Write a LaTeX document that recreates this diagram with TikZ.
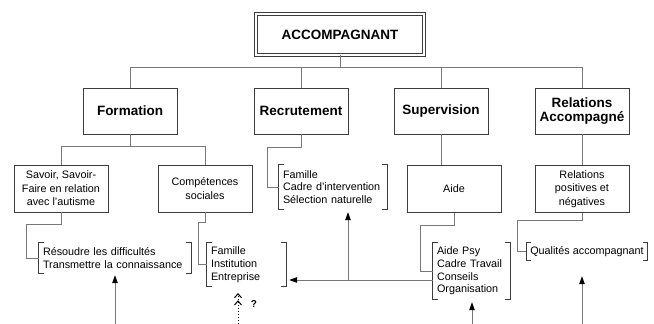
\documentclass[tikz,border=0pt]{standalone}
\usepackage{fontspec}
\setmainfont{Liberation Sans}
\usetikzlibrary{arrows.meta, positioning, calc}
\definecolor{boxline}{RGB}{60,60,60}
\definecolor{linkline}{RGB}{120,120,120}

\begin{document}
\begin{tikzpicture}[x=1pt, y=-1pt,
    head/.style={draw=boxline, line width=0.9pt, double, double distance=2pt,
                 minimum width=168pt, minimum height=41pt,
                 font=\bfseries\fontsize{13.5}{15}\selectfont},
    topic/.style={draw=boxline, line width=0.9pt, minimum width=94pt, minimum height=46pt,
                  align=center, font=\bfseries\fontsize{13.5}{14.5}\selectfont},
    sub/.style={draw=boxline, line width=0.9pt, minimum width=94pt, minimum height=47pt,
                align=center, font=\fontsize{10.8}{13.5}\selectfont},
    list/.style={inner xsep=4pt, inner ysep=0pt, align=left,
                 font=\fontsize{10.8}{12.8}\selectfont},
    link/.style={draw=linkline, line width=0.9pt},
    brk/.style={draw=boxline, line width=0.9pt},
    arr/.style={draw=linkline, line width=0.9pt, -{Triangle[length=8pt, width=5.5pt, color=black]}},
    qarr/.style={draw=black, line width=1pt, dotted,
                 -{Straight Barb[length=4pt, width=7pt, sep=2pt] Straight Barb[length=4pt, width=7pt]}}
  ]
    \useasboundingbox (0,0) rectangle (654,324);

    % Head
    \node[head] (acc) at (340,34.5) {ACCOMPAGNANT};

    % Topics
    \node[topic] (form) at (130,111) {Formation};
    \node[topic] (recr) at (301,111) {Recrutement};
    \node[topic] (supv) at (441,111) {Supervision};
    \node[topic] (rela) at (582,111) {Relations\\Accompagné};

    % Second level
    \node[sub] (savoir) at (61,188.5)  {Savoir, Savoir-\\Faire en relation\\avec l'autisme};
    \node[sub] (comp)   at (205,188.5) {Compétences\\sociales};
    \node[sub] (aide)   at (454,189)   {Aide};
    \node[sub] (relpn)  at (582,189)   {Relations\\positives et\\négatives};

    % Bracketed lists
    \node[list, text width=144pt, minimum height=30pt] (resb)  at (115,258)   {Résoudre les difficultés\\Transmettre la connaissance};
    \node[list, text width=71pt,  minimum height=43pt] (famb)  at (246.5,264.5) {Famille\\Institution\\Entreprise};
    \node[list, text width=100pt, minimum height=44pt] (recb)  at (333,187)   {Famille\\Cadre d'intervention\\Sélection naturelle};
    \node[list, text width=69pt,  minimum height=56pt] (aideb) at (471.5,271) {Aide Psy\\Cadre Travail\\Conseils\\Organisation};
    \node[list, minimum width=120pt, minimum height=17pt] (qualb) at (587,251.5) {Qualités accompagnant};

    \foreach \b in {resb, famb, recb, aideb, qualb} {
      \draw[brk] ([xshift=5pt]\b.north west) -- (\b.north west) -- (\b.south west) -- ([xshift=5pt]\b.south west);
      \draw[brk] ([xshift=-5pt]\b.north east) -- (\b.north east) -- (\b.south east) -- ([xshift=-5pt]\b.south east);
    }

    % Tree links
    \foreach \t in {form, recr, supv, rela}
      \draw[link] (acc.south) -- ++(0,12) -| (\t.north);
    \draw[link] (form.south) -- ++(0,12) -| (savoir.north);
    \draw[link] (form.south) -- ++(0,12) -| (comp.north);
    \draw[link] (supv.south) -- (supv.south |- aide.north);
    \draw[link] (rela.south) -- (relpn.north);

    \draw[link] (savoir.south) -- ++(0,12) -| ([xshift=-12pt]resb.west) -- (resb.west);
    \draw[link] (comp.south) -- ++(0,10) -| ([xshift=-8pt]famb.west) -- (famb.west);
    \draw[link] (recr.south) -- ++(0,13) -| ([xshift=-11pt]recb.west) -- (recb.west);
    \draw[link] (aide.south) -- ++(0,12) -| ([xshift=-12pt]aideb.west) -- (aideb.west);
    \draw[link] (relpn.south) -- ++(0,7) -| ([xshift=-9pt]qualb.west) -- (qualb.west);

    % Incoming arrows
    \coordinate (in1) at (115,324);
    \coordinate (in2) at (472,324);
    \coordinate (in3) at (582,324);
    \coordinate (jn)  at (348,280);
    \draw[arr] (in1) -- ([yshift=-2pt]resb.south -| in1);
    \draw[arr] (in2) -- ([yshift=-3pt]aideb.south -| in2);
    \draw[arr] (in3) -- ([yshift=-16pt]qualb.south -| in3);
    \draw[arr] ([yshift=-9pt]aideb.west) -- ([yshift=-9pt,xshift=3pt]aideb.west -| famb.east);
    \draw[arr] (jn) -- ([yshift=-3pt]recb.south -| jn);

    % Open question
    \coordinate (qin) at (238,324);
    \draw[qarr] (qin) -- (238,293);
    \node[font=\bfseries\fontsize{10}{12}\selectfont] (qm) at (254,304) {?};

  \end{tikzpicture}
\end{document}
